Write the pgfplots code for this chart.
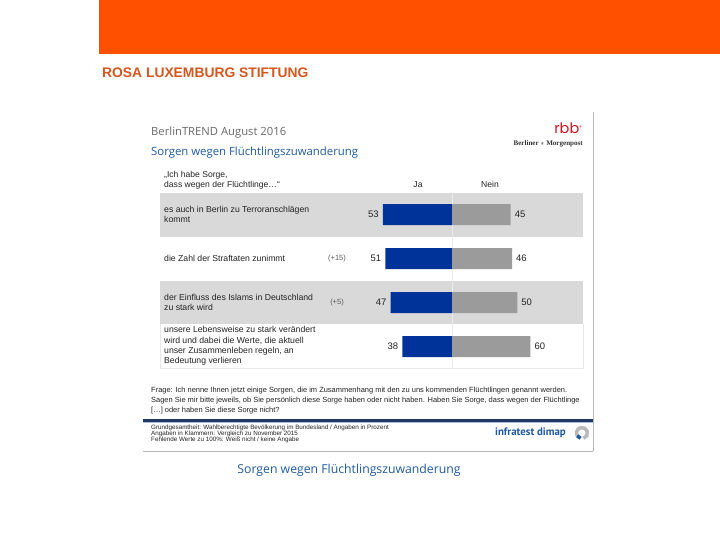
\documentclass[border=0pt]{standalone}
\usepackage{pgfplots}
\usepackage{pgfplotstable}
\pgfplotsset{compat=1.18}
\usepackage{fontspec}
\setmainfont{Liberation Sans}
\newfontfamily\titlefont{Open Sans}
\newfontfamily\seriffont{Liberation Serif}
\newfontfamily\ptsans{PT Sans}
\newfontfamily\popp{Poppins}
\newfontfamily\dejavu{DejaVu Sans}
\definecolor{rlsorange}{RGB}{255,80,0}
\definecolor{rlstext}{RGB}{214,86,30}
\definecolor{jablue}{RGB}{0,51,153}
\definecolor{neingray}{RGB}{155,155,155}
\definecolor{band}{RGB}{217,217,217}
\definecolor{titleblue}{RGB}{30,90,160}
\definecolor{titlegray}{RGB}{105,105,105}
\definecolor{navy}{RGB}{31,56,100}
\definecolor{rbbred}{RGB}{210,20,30}
\definecolor{txt}{RGB}{35,35,35}

\pgfplotstableread{
row ja nein
1 53 45
2 51 46
3 47 50
4 38 60
}\data

\begin{document}
\begin{tikzpicture}[x=1bp,y=1bp]
\begin{scope}[y=-1bp]
\fill[white] (0,0) rectangle (720,540);
\path[use as bounding box] (0,0) rectangle (720,540);
% slide header
\fill[rlsorange] (99,0) rectangle (720,54);
\node[anchor=base west, inner sep=0, text=rlstext, font=\fontsize{13.9}{15}\selectfont\bfseries] at (102,78) {ROSA LUXEMBURG STIFTUNG};
% embedded chart frame
\draw[gray!55, line width=1bp] (593,112) -- (593,451);
\draw[gray!55, line width=1bp] (143,451) -- (593,451);
% titles
\node[anchor=base west, inner sep=0, text=titlegray, font=\titlefont\fontsize{11.3}{14}\selectfont] at (151,136) {BerlinTREND August 2016};
\node[anchor=base west, inner sep=0, text=titleblue, font=\titlefont\fontsize{11.4}{14}\selectfont] at (151,156) {Sorgen wegen Flüchtlingszuwanderung};
% logos
\node[anchor=base east, inner sep=0, text=rbbred, font=\popp\fontsize{14.5}{15}\selectfont] at (582,133.5) {rbb\raisebox{3.5bp}{\fontsize{5}{5}\selectfont®}};
\node[anchor=base east, inner sep=0, text=black!80, font=\seriffont\bfseries\fontsize{7.1}{8}\selectfont] at (583,146) {Berliner {\dejavu\mdseries\fontsize{4.5}{4.5}\selectfont ⚜} Morgenpost};
% header
\node[anchor=base west, inner sep=0, text=txt, font=\fontsize{8.6}{10}\selectfont] at (164,178) {„Ich habe Sorge,};
\node[anchor=base west, inner sep=0, text=txt, font=\fontsize{8.6}{10}\selectfont] at (164,188) {dass wegen der Flüchtlinge…“};
\node[anchor=base, inner sep=0, text=txt, font=\fontsize{8.6}{10}\selectfont] at (418,188) {Ja};
\node[anchor=base, inner sep=0, text=txt, font=\fontsize{8.6}{10}\selectfont] at (490,188) {Nein};
% row bands
\fill[band] (160,193) rectangle (583,237);
\fill[band] (160,281) rectangle (583,324);
\draw[gray!18, line width=0.6bp] (160,324) -- (160,368) -- (583,368) -- (583,324);
\draw[white!92!black, line width=0.8bp] (452,193) -- (452,368);
% row labels
\node[anchor=west, inner sep=0, text=txt, align=left, font=\fontsize{8.7}{10}\selectfont] at (164,214.5) {es auch in Berlin zu Terroranschlägen\\kommt};
\node[anchor=west, inner sep=0, text=txt, align=left, font=\fontsize{8.7}{10}\selectfont] at (164,258.5) {die Zahl der Straftaten zunimmt};
\node[anchor=west, inner sep=0, text=txt, align=left, font=\fontsize{8.7}{10}\selectfont] at (164,302.5) {der Einfluss des Islams in Deutschland\\zu stark wird};
\node[anchor=west, inner sep=0, text=txt, align=left, font=\fontsize{8.7}{10.5}\selectfont] at (164,346) {unsere Lebensweise zu stark verändert\\wird und dabei die Werte, die aktuell\\unser Zusammenleben regeln, an\\Bedeutung verlieren};
\node[inner sep=0, text=black!65, font=\fontsize{7.5}{8}\selectfont] at (337,258.5) {(+15)};
\node[inner sep=0, text=black!65, font=\fontsize{7.5}{8}\selectfont] at (337,302.5) {(+5)};
% question text
\node[anchor=north west, inner sep=0, text=txt, align=left, font=\fontsize{7.5}{10}\selectfont] at (151,387) {Frage: Ich nenne Ihnen jetzt einige Sorgen, die im Zusammenhang mit den zu uns kommenden Flüchtlingen genannt werden.\\Sagen Sie mir bitte jeweils, ob Sie persönlich diese Sorge haben oder nicht haben. Haben Sie Sorge, dass wegen der Flüchtlinge\\{[…]} oder haben Sie diese Sorge nicht?};
% footer
\draw[navy, line width=2.5bp] (143,420.5) -- (593,420.5);
\draw[titleblue!40, line width=0.8bp] (143,422.3) -- (593,422.3);
\node[anchor=north west, inner sep=0, text=txt, align=left, font=\fontsize{6.3}{6.2}\selectfont] at (151,424.5) {Grundgesamtheit: Wahlberechtigte Bevölkerung im Bundesland / Angaben in Prozent\\Angaben in Klammern: Vergleich zu November 2015\\Fehlende Werte zu 100\%: Weiß nicht / keine Angabe};
\node[anchor=east, inner sep=0, text=titleblue, font=\ptsans\bfseries\fontsize{10.9}{12}\selectfont] at (566,433) {infratest dimap};
\draw[gray!55, line width=3.5bp] (582,433) ++(75:5.5) arc (75:-215:5.5);
\draw[titleblue, line width=3.5bp] (582,433) ++(150:5.5) arc (150:105:5.5);
% caption below
\node[anchor=base, inner sep=0, text=titleblue, font=\titlefont\fontsize{12.3}{15}\selectfont] at (349,473) {Sorgen wegen Flüchtlingszuwanderung};
\end{scope}
% bars
\begin{axis}[
  at={(360.65bp,-368.5bp)}, anchor=south west,
  scale only axis, width=182.7bp, height=176bp,
  xmin=-70, xmax=70, ymin=0.5, ymax=4.5, y dir=reverse,
  axis lines=none, clip=false,
  /pgf/number format/assume math mode=true,
]
\addplot[xbar, bar width=21bp, bar shift=0pt, fill=jablue, draw=none,
  point meta=explicit, nodes near coords,
  every node near coord/.append style={anchor=east, inner sep=0pt, xshift=-4bp, text=txt, font=\fontsize{9.5}{10}\selectfont}]
  table[x expr=-\thisrow{ja}, y=row, meta=ja] {\data};
\addplot[xbar, bar width=21bp, bar shift=0pt, fill=neingray, draw=none,
  point meta=explicit, nodes near coords,
  every node near coord/.append style={anchor=west, inner sep=0pt, xshift=4bp, text=txt, font=\fontsize{9.5}{10}\selectfont}]
  table[x=nein, y=row, meta=nein] {\data};
\end{axis}
\end{tikzpicture}
\end{document}
